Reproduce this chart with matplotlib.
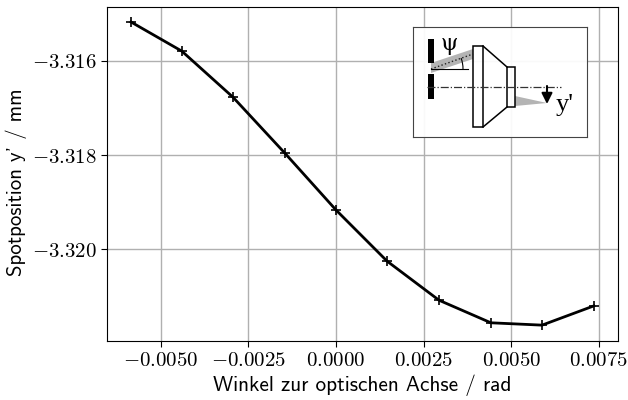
import matplotlib
matplotlib.use("Agg")
import matplotlib.pyplot as plt
from matplotlib.patches import Polygon, Rectangle, Arc

plt.rcParams["mathtext.fontset"] = "cm"
plt.rcParams["font.family"] = ["cmss10", "DejaVu Sans"]
plt.rcParams["axes.formatter.use_mathtext"] = True
plt.rcParams["axes.unicode_minus"] = True

W, H = 628, 400

winkel = [-0.00585, -0.00440, -0.00294, -0.00146, 0.0, 0.00146, 0.00294, 0.00442, 0.00588, 0.00736]
spot = [-3.31517, -3.31579, -3.31677, -3.31796, -3.31917, -3.32026, -3.32109, -3.32157, -3.32162, -3.32121]
xticks = [-0.005, -0.0025, 0.0, 0.0025, 0.005, 0.0075]
xlabels = ["$-0.0050$", "$-0.0025$", "$0.0000$", "$0.0025$", "$0.0050$", "$0.0075$"]
yticks = [-3.316, -3.318, -3.320]
ylabels = ["$-3.316$", "$-3.318$", "$-3.320$"]


def box(l, t, r, b):
    # pixel box of the reference -> figure fraction
    return [l / W, 1 - b / H, (r - l) / W, (b - t) / H]


fig = plt.figure(figsize=(6.28, 4.0), dpi=100)
ax = fig.add_axes(box(107, 7, 618, 341))
ax.plot(winkel, spot, color="black", lw=2, marker="+", ms=7, mew=1.2)
ax.set_xlim((107 - 336) / 35040, (618 - 336) / 35040)
ax.set_ylim(-3.316 - (341 - 61) / 47000, -3.316 + (61 - 7) / 47000)
ax.set_xticks(xticks, xlabels, fontsize=15)
ax.set_yticks(yticks, ylabels, fontsize=15)
ax.tick_params(length=4, width=0.8)
ax.grid(True, color="#b0b0b0", lw=1)
ax.set_axisbelow(True)
ax.set_xlabel("Winkel zur optischen Achse / rad", fontsize=15.3, labelpad=3)
ax.set_ylabel("Spotposition y' / mm", fontsize=15)
ax.yaxis.set_label_coords((27 - 107) / (618 - 107), 0.476)

# Schematic, drawn in reference pixels
sk = fig.add_axes(box(413, 27, 587, 137))
sk.set_xlim(413, 587)
sk.set_ylim(137, 27)
sk.set_xticks([])
sk.set_yticks([])
sk.patch.set_facecolor("white")
sk.patch.set_alpha(0.93)
for s in sk.spines.values():
    s.set_color("#444444")
    s.set_linewidth(0.8)

sk.add_patch(Polygon([(431, 63), (473, 49), (473, 59), (431, 73)], color="#b4b4b4", lw=0))
sk.add_patch(Polygon([(515, 96), (515, 106), (547, 103)], color="#b4b4b4", lw=0))
sk.add_patch(Rectangle((428, 39), 6, 24, color="black", lw=0))
sk.add_patch(Rectangle((428, 74), 6, 25, color="black", lw=0))
sk.plot([427, 561], [87, 87], color="#333333", lw=0.9, ls="-.")
sk.plot([431, 473], [69, 54], color="#222222", lw=1, ls=":")
sk.plot([431, 468], [69, 69], color="black", lw=0.8)
sk.add_patch(Arc((431, 69), 64, 64, theta1=-20, theta2=0, color="black", lw=0.8))
sk.add_patch(Rectangle((473, 46), 10, 81, fc="none", ec="black", lw=1.1))
sk.plot([483, 507], [46, 67], color="black", lw=1.1)
sk.plot([483, 507], [127, 107], color="black", lw=1.1)
sk.add_patch(Rectangle((507, 67), 8, 40, fc="none", ec="black", lw=1.1))
sk.annotate("", xy=(547, 104), xytext=(547, 86),
            arrowprops=dict(arrowstyle="-|>", color="black", lw=1.5, mutation_scale=16, shrinkA=0, shrinkB=0))
sk.text(449, 44, "ψ", fontsize=16, family="DejaVu Serif", ha="center", va="center")
sk.text(565, 105, "y'", fontsize=19, family="Liberation Serif", ha="center", va="center")

fig.savefig("out.png", dpi=100)
